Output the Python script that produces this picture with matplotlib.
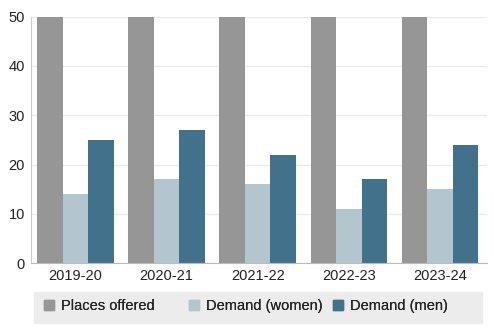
import numpy as np
import matplotlib
matplotlib.use("Agg")
import matplotlib.pyplot as plt
from matplotlib.patches import Rectangle, Patch

years = ["2019-20", "2020-21", "2021-22", "2022-23", "2023-24"]
places_offered = [60, 60, 60, 60, 60]  # runs off the top of the axis
demand_women = [14, 17, 16, 11, 15]
demand_men = [25, 27, 22, 17, 24]

series = [
    ("Places offered", places_offered, "#969696"),
    ("Demand (women)", demand_women, "#b3c5cf"),
    ("Demand (men)", demand_men, "#41718b"),
]

plt.rcParams["font.family"] = ["Liberation Sans", "DejaVu Sans"]

W, H = 494, 334
fig = plt.figure(figsize=(W / 100, H / 100), dpi=100)
ax = fig.add_axes([0.062, 0.212, 0.923, 0.738])

x = np.arange(len(years))
width = 0.28
for i, (label, values, color) in enumerate(series):
    ax.bar(x + (i - 1) * width, values, width, color=color, label=label, zorder=2)

ax.set_xlim(-0.49, len(years) - 0.49)
ax.set_ylim(0, 50)
ax.set_yticks(range(0, 51, 10))
ax.set_xticks(x)
ax.set_xticklabels(years)
ax.grid(axis="y", color="#ebebeb", lw=1, zorder=0)
ax.tick_params(length=0, labelsize=10.5, colors="#222222", pad=4)
ax.tick_params(axis="y", pad=4)

for side in ["top", "right"]:
    ax.spines[side].set_visible(False)
ax.spines["left"].set_color("#cccccc")
ax.spines["bottom"].set_color("#bbbbbb")

# legend strip with fixed-width columns
fig.add_artist(Rectangle((34 / W, 1 - 323 / H), 448 / W, 31 / H,
                         transform=fig.transFigure, color="#ececec", zorder=0))
col_x = [44, 189, 333]
for (label, values, color), cx in zip(series, col_x):
    leg = fig.legend(
        [Patch(color=color)], [label],
        loc="center left",
        bbox_to_anchor=(cx / W, 1 - 306 / H),
        fontsize=10.5,
        frameon=False,
        handlelength=0.7,
        handleheight=0.7,
        handletextpad=0.45,
        borderpad=0,
        borderaxespad=0,
        labelcolor="#222222",
    )
    fig.add_artist(leg)

fig.savefig("out.png", dpi=100)
